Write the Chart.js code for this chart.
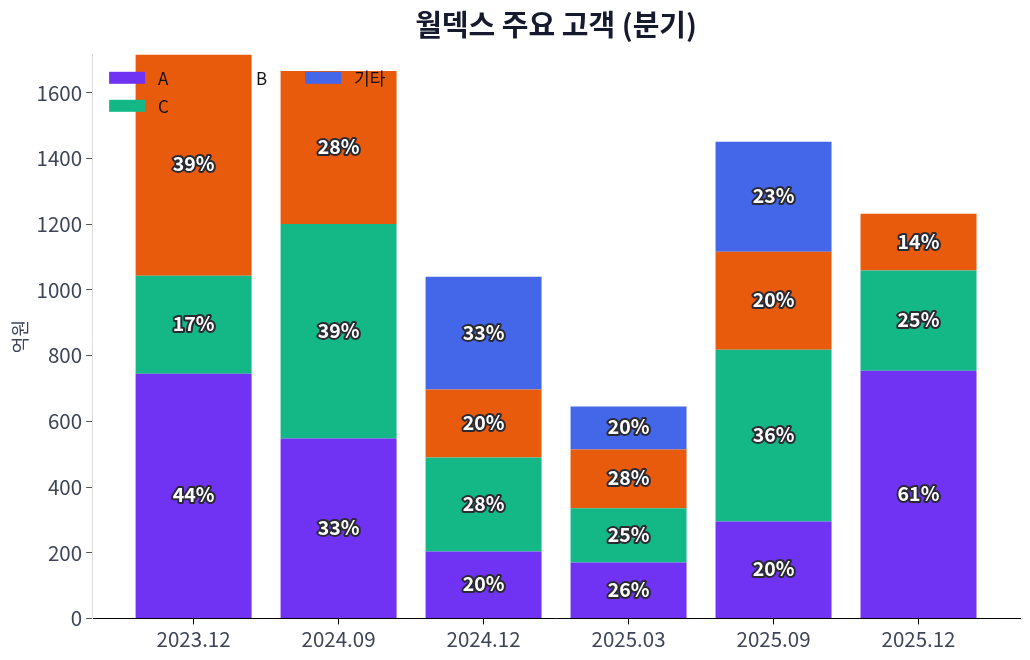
<!DOCTYPE html>
<html>
<head>
<meta charset="utf-8">
<script src="https://cdn.jsdelivr.net/npm/chart.js@4/dist/chart.umd.min.js"></script>
<style>
  html, body { margin: 0; padding: 0; background: #fff; }
  #wrap { width: 1030px; height: 660px; }
</style>
</head>
<body>
<div id="wrap"><canvas id="chart" width="1030" height="660"></canvas></div>
<script>
// 분기 및 고객별 매출 (억원)
var categories = ['2023.12', '2024.09', '2024.12', '2025.03', '2025.09', '2025.12'];
var seriesA = [745, 548, 204, 170, 295, 754];
var seriesC = [298, 653, 286, 165, 523, 305];
var seriesB = [680, 466, 207, 179, 298, 173];
var seriesEtc = [0, 0, 343, 131, 335, 0];

// 막대 위에 표시되는 비중 라벨
var pctA = ['44%', '33%', '20%', '26%', '20%', '61%'];
var pctC = ['17%', '39%', '28%', '25%', '36%', '25%'];
var pctB = ['39%', '28%', '20%', '28%', '20%', '14%'];
var pctEtc = ['', '', '33%', '20%', '23%', ''];

var yTicks = [0, 200, 400, 600, 800, 1000, 1200, 1400, 1600];

var FONT = "'Noto Sans CJK KR', 'Noto Sans', sans-serif";

function toPoints(arr) {
    return arr.map(function(v, i) { return { x: i, y: v }; });
}

// 세그먼트 가운데에 퍼센트 표시
var segmentLabels = {
    id: 'segmentLabels',
    afterDatasetsDraw: function(chart) {
        var ctx = chart.ctx;
        ctx.save();
        ctx.font = 'bold 19.5px ' + FONT;
        ctx.textAlign = 'center';
        ctx.textBaseline = 'middle';
        ctx.lineJoin = 'round';
        chart.data.datasets.forEach(function(ds, di) {
            var meta = chart.getDatasetMeta(di);
            meta.data.forEach(function(bar, i) {
                var txt = ds.pct[i];
                if (!txt) return;
                var p = bar.getCenterPoint();
                ctx.lineWidth = 4;
                ctx.strokeStyle = '#2a2a33';
                ctx.strokeText(txt, p.x, p.y - 1);
                ctx.fillStyle = '#ffffff';
                ctx.fillText(txt, p.x, p.y - 1);
            });
        });
        ctx.restore();
    }
};

// 범례 (3열, 열 우선 배치)
var legendItems = [
    { label: 'A', color: '#7133f3', col: 0, row: 0 },
    { label: 'C', color: '#13b886', col: 0, row: 1 },
    { label: 'B', color: '#e85a0c', col: 1, row: 0 },
    { label: '기타', color: '#4466e8', col: 2, row: 0 }
];
var customLegend = {
    id: 'customLegend',
    afterDatasetsDraw: function(chart) {
        var ctx = chart.ctx;
        var left = chart.chartArea.left + 17;
        var top = chart.chartArea.top + 23;
        ctx.save();
        ctx.font = '17px ' + FONT;
        ctx.textBaseline = 'middle';
        legendItems.forEach(function(it) {
            var x = left + it.col * 98;
            var y = top + it.row * 28;
            ctx.fillStyle = it.color;
            ctx.fillRect(x, y - 6, 36, 12);
            ctx.fillStyle = '#111';
            ctx.fillText(it.label, x + 49, y + 1);
        });
        ctx.restore();
    }
};

var datasets = [
    { label: 'A', data: toPoints(seriesA), backgroundColor: '#7133f3', pct: pctA },
    { label: 'C', data: toPoints(seriesC), backgroundColor: '#13b886', pct: pctC },
    { label: 'B', data: toPoints(seriesB), backgroundColor: '#e85a0c', pct: pctB },
    { label: '기타', data: toPoints(seriesEtc), backgroundColor: '#4466e8', pct: pctEtc }
];

new Chart(document.getElementById('chart').getContext('2d'), {
    type: 'bar',
    data: { datasets: datasets },
    plugins: [segmentLabels, customLegend],
    options: {
        responsive: false,
        animation: false,
        devicePixelRatio: 1,
        layout: { padding: { left: 9, right: 10, top: 8, bottom: 5 } },
        barPercentage: 0.8,
        categoryPercentage: 1.0,
        plugins: {
            legend: { display: false },
            tooltip: { enabled: false },
            title: {
                display: true,
                text: '월덱스 주요 고객 (분기)',
                fullSize: false,
                color: '#151a2e',
                font: { family: FONT, size: 29, weight: 'bold' },
                padding: { top: 0, bottom: 12 }
            }
        },
        scales: {
            x: {
                type: 'linear',
                stacked: true,
                min: -0.7,
                max: 5.7,
                offset: false,
                grid: { offset: false, drawOnChartArea: false, drawTicks: true, tickLength: 6, color: '#000' },
                border: { color: '#000', width: 1 },
                ticks: {
                    stepSize: 1,
                    includeBounds: false,
                    autoSkip: false,
                    maxRotation: 0,
                    color: '#3d4457',
                    font: { family: FONT, size: 20.5 },
                    padding: 3,
                    callback: function(v) {
                        return Number.isInteger(v) ? categories[v] : '';
                    }
                }
            },
            y: {
                stacked: true,
                min: 0,
                max: 1716,
                afterBuildTicks: function(axis) {
                    axis.ticks = yTicks.map(function(v) { return { value: v }; });
                },
                grid: { drawOnChartArea: false, drawTicks: true, tickLength: 6, color: '#555' },
                border: { color: '#dddddd', width: 1 },
                ticks: {
                    color: '#3d4457',
                    font: { family: FONT, size: 20.5 },
                    padding: 4,
                    callback: function(v) { return String(v); }
                },
                title: {
                    display: true,
                    text: '억원',
                    color: '#3d4457',
                    font: { family: FONT, size: 18 },
                    padding: { top: 0, bottom: 2 }
                }
            }
        }
    }
});
</script>
</body>
</html>
